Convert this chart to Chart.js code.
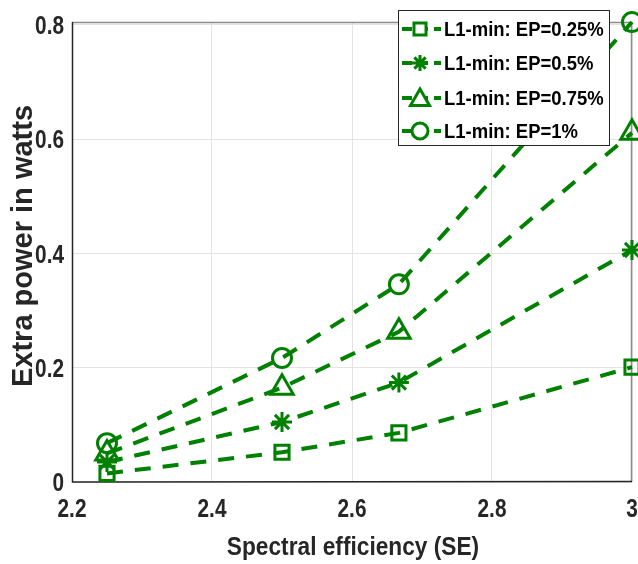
<!DOCTYPE html>
<html>
<head>
<meta charset="utf-8">
<script src="https://cdn.jsdelivr.net/npm/chart.js@4.4.1/dist/chart.umd.min.js"></script>
<style>
  html, body { margin: 0; padding: 0; background: #fff; }
  #wrap { width: 638px; height: 564px; }
</style>
</head>
<body>
<div id="wrap"><canvas id="chart" width="638" height="564"></canvas></div>
<script>
// --- data ---
const seValues = [2.25, 2.5, 2.667, 3];
const seriesLabels = ['L1-min: EP=0.25%', 'L1-min: EP=0.5%', 'L1-min: EP=0.75%', 'L1-min: EP=1%'];
const ep025 = [0.015, 0.052, 0.086, 0.201];
const ep050 = [0.035, 0.105, 0.174, 0.406];
const ep075 = [0.050, 0.165, 0.263, 0.611];
const ep100 = [0.068, 0.217, 0.346, 0.805];
const xTicks = [2.2, 2.4, 2.6, 2.8, 3];
const yTicks = [0, 0.2, 0.4, 0.6, 0.8];
const xTitle = 'Spectral efficiency (SE)';
const yTitle = 'Extra power in watts';

const green = '#008000';
const textGrey = '#262626';
const markers = [
    { style: 'rect', r: 10 },
    { style: 'star', r: 10 },
    { style: 'triangle', r: 13 },
    { style: 'circle', r: 9.5 }
];
const allSeries = [ep025, ep050, ep075, ep100];

function toPoints(vals) {
    return vals.map((v, i) => ({ x: seValues[i], y: v }));
}

const datasets = allSeries.map((vals, i) => ({
    label: seriesLabels[i],
    data: toPoints(vals),
    borderColor: green,
    borderWidth: 4,
    borderDash: [16, 12],
    pointStyle: markers[i].style,
    pointRadius: markers[i].r,
    pointHoverRadius: markers[i].r,
    pointBorderColor: green,
    pointBackgroundColor: 'rgba(0,0,0,0)',
    pointBorderWidth: 3,
    clip: false,
    tension: 0
}));

// text squeezed horizontally, to imitate the narrow Helvetica of the original
function squeezed(ctx, text, x, y, size, sx, align) {
    ctx.save();
    ctx.font = 'bold ' + size + 'px "Liberation Sans", Arial, sans-serif';
    ctx.textBaseline = 'middle';
    ctx.textAlign = align;
    ctx.translate(x, y);
    ctx.scale(sx, 1);
    ctx.fillText(text, 0, 0);
    ctx.restore();
}

// draw one marker by hand (used for the legend)
function drawMarker(ctx, style, x, y, r) {
    ctx.save();
    ctx.strokeStyle = green;
    ctx.lineWidth = 3;
    ctx.setLineDash([]);
    ctx.fillStyle = '#fff';
    ctx.beginPath();
    if (style === 'rect') {
        const s = r * Math.SQRT1_2;
        ctx.rect(x - s, y - s, 2 * s, 2 * s);
        ctx.fill();
    } else if (style === 'circle') {
        ctx.arc(x, y, r, 0, Math.PI * 2);
        ctx.fill();
    } else if (style === 'triangle') {
        for (let k = 0; k < 3; k++) {
            const a = k * 2 * Math.PI / 3;
            const px = x + Math.sin(a) * r, py = y - Math.cos(a) * r;
            if (k === 0) ctx.moveTo(px, py); else ctx.lineTo(px, py);
        }
        ctx.closePath();
        ctx.fill();
    } else if (style === 'star') {
        for (let k = 0; k < 4; k++) {
            const a = k * Math.PI / 4;
            ctx.moveTo(x + Math.cos(a) * r, y + Math.sin(a) * r);
            ctx.lineTo(x - Math.cos(a) * r, y - Math.sin(a) * r);
        }
    }
    ctx.stroke();
    ctx.restore();
}

const boxAndLegend = {
    id: 'boxAndLegend',
    beforeDatasetsDraw(chart) {
        const { ctx, chartArea: a } = chart;
        ctx.save();
        ctx.lineWidth = 1.5;
        ctx.strokeStyle = '#8c8c8c';
        ctx.beginPath();
        ctx.moveTo(a.left, a.top + 0.5);
        ctx.lineTo(a.right, a.top + 0.5);
        ctx.moveTo(a.right - 0.5, a.top);
        ctx.lineTo(a.right - 0.5, a.bottom);
        ctx.stroke();
        ctx.strokeStyle = textGrey;
        ctx.beginPath();
        ctx.moveTo(a.left + 0.5, a.top);
        ctx.lineTo(a.left + 0.5, a.bottom);
        ctx.lineTo(a.right, a.bottom - 0.5);
        ctx.stroke();
        ctx.restore();
    },
    afterDraw(chart) {
        const { ctx, chartArea: a, scales } = chart;

        // tick labels and axis titles
        ctx.save();
        ctx.fillStyle = textGrey;
        xTicks.forEach(v => {
            squeezed(ctx, String(v), scales.x.getPixelForValue(v), 510, 26, 0.8, 'center');
        });
        yTicks.forEach(v => {
            squeezed(ctx, String(v), a.left - 8, scales.y.getPixelForValue(v) + 2, 26, 0.8, 'right');
        });
        squeezed(ctx, xTitle, (a.left + a.right) / 2 + 1, 548, 25.5, 0.89, 'center');
        ctx.translate(24, 246);
        ctx.rotate(-Math.PI / 2);
        ctx.font = 'bold 29px "Liberation Sans", Arial, sans-serif';
        ctx.textAlign = 'center';
        ctx.textBaseline = 'middle';
        ctx.fillText(yTitle, 0, 0);
        ctx.restore();

        // legend
        const bx = 398, by = 10, bw = 211, bh = 135;
        ctx.save();
        ctx.fillStyle = '#fff';
        ctx.fillRect(bx, by, bw, bh);
        ctx.strokeStyle = textGrey;
        ctx.lineWidth = 1;
        ctx.strokeRect(bx + 0.5, by + 0.5, bw, bh);
        const rows = [29, 63, 98, 131];
        seriesLabels.forEach((lab, i) => {
            const y = rows[i];
            ctx.strokeStyle = green;
            ctx.lineWidth = 4;
            ctx.setLineDash([10, 6]);
            ctx.beginPath();
            ctx.moveTo(402, y);
            ctx.lineTo(441, y);
            ctx.stroke();
            ctx.setLineDash([]);
            const m = markers[i];
            const lr = m.style === 'triangle' ? 11 : (m.style === 'rect' ? 8.5 : 8);
            drawMarker(ctx, m.style, 420, m.style === 'triangle' ? y + 2 : y, lr);
            ctx.fillStyle = '#000';
            squeezed(ctx, lab, 444, y + 1, 21, 0.88, 'left');
        });
        ctx.restore();
    }
};

new Chart(document.getElementById('chart'), {
    type: 'line',
    data: { datasets },
    plugins: [boxAndLegend],
    options: {
        responsive: false,
        animation: false,
        layout: { autoPadding: false, padding: { top: 22, right: 6, left: 0, bottom: 0 } },
        plugins: { legend: { display: false }, tooltip: { enabled: false } },
        scales: {
            x: {
                type: 'linear',
                min: 2.2,
                max: 3,
                afterFit: s => { s.height = 82; s.paddingLeft = 0; s.paddingRight = 0; },
                afterBuildTicks: s => { s.ticks = xTicks.map(v => ({ value: v })); },
                grid: { color: '#e3e3e3', drawTicks: false, lineWidth: 1 },
                border: { display: false },
                ticks: { display: false }
            },
            y: {
                type: 'linear',
                min: 0,
                max: 0.805,
                afterFit: s => { s.width = 72; s.paddingTop = 0; s.paddingBottom = 0; },
                afterBuildTicks: s => { s.ticks = yTicks.map(v => ({ value: v })); },
                grid: { color: '#e3e3e3', drawTicks: false, lineWidth: 1 },
                border: { display: false },
                ticks: { display: false }
            }
        }
    }
});
</script>
</body>
</html>
